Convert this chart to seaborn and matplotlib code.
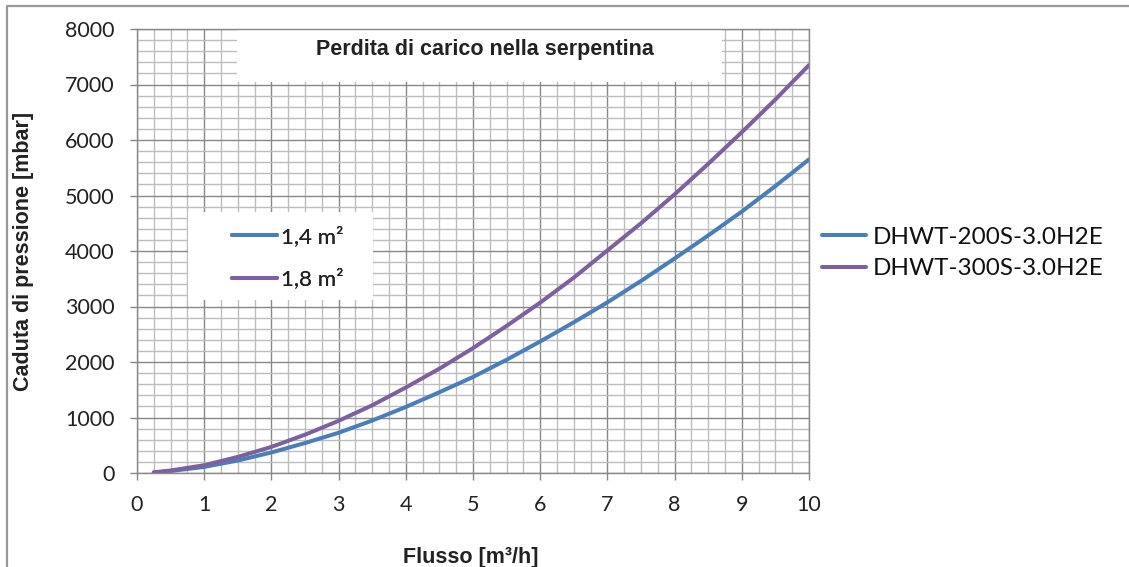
import pandas as pd
import matplotlib
matplotlib.use("Agg")
import matplotlib.pyplot as plt
import seaborn as sns
from matplotlib.patches import Rectangle
from matplotlib.lines import Line2D
from matplotlib.ticker import MultipleLocator

# values
flow = [0.25, 0.5, 1, 1.5, 2, 2.5, 3, 3.5, 4, 4.5, 5,
        5.5, 6, 6.5, 7, 7.5, 8, 8.5, 9, 9.5, 10]
dp_200 = [8, 35, 110, 225, 370, 540, 725, 945, 1190, 1455, 1730,
          2040, 2370, 2715, 3075, 3460, 3865, 4280, 4710, 5170, 5650]
dp_300 = [12, 45, 140, 290, 470, 690, 940, 1220, 1540, 1880, 2250,
          2650, 3070, 3520, 4010, 4500, 5020, 5570, 6140, 6730, 7350]

series_names = ["DHWT-200S-3.0H2E", "DHWT-300S-3.0H2E"]
area_labels = ["1,4 m²", "1,8 m²"]
colors = ["#4A7EBB", "#7D60A0"]

title = "Perdita di carico nella serpentina"
x_label = "Flusso [m³/h]"
y_label = "Caduta di pressione [mbar]"

df = pd.DataFrame({
    "Flusso": flow + flow,
    "Caduta": dp_200 + dp_300,
    "Serie": [series_names[0]] * len(flow) + [series_names[1]] * len(flow),
})

sns.set_theme(style="white")
plt.rcParams['font.family'] = ['Lato', 'DejaVu Sans']

W, H = 1129, 567
fig = plt.figure(figsize=(W / 100, H / 100), dpi=100)
ax = fig.add_axes([137 / W, (H - 473) / H, 672 / W, 444 / H])

sns.lineplot(data=df, x="Flusso", y="Caduta", hue="Serie",
             palette=colors, linewidth=2.9, ax=ax, legend=False)

ax.set_xlim(0, 10)
ax.set_ylim(0, 8000)
ax.xaxis.set_major_locator(MultipleLocator(1))
ax.xaxis.set_minor_locator(MultipleLocator(0.25))
ax.yaxis.set_major_locator(MultipleLocator(1000))
ax.yaxis.set_minor_locator(MultipleLocator(200))
ax.set_axisbelow(True)
ax.grid(which='major', color='#888888', lw=1.0)
ax.grid(which='minor', color='#BDBDBD', lw=1.0)
for s in ax.spines.values():
    s.set_color('#888888')
    s.set_linewidth(1.0)
ax.tick_params(which='major', direction='out', length=5, width=1,
               color='#888888', labelsize=15.5, labelcolor='#222222',
               bottom=True, left=True, pad=11)
ax.tick_params(which='minor', length=0)

bold = dict(family='Liberation Sans', weight='bold', size=15.5, color='#222222')
ax.set_xlabel(x_label, **bold)
ax.set_ylabel(y_label, **bold)
ax.xaxis.set_label_coords((471 - 137) / 672, -(547 - 473) / 444)
ax.yaxis.set_label_coords(-(137 - 34) / 672, (473 - 251) / 444)

# white box behind the title
ax.add_patch(Rectangle((0.149, 0.8806), 0.7215, 0.1194, transform=ax.transAxes,
                       facecolor='white', edgecolor='none', zorder=1))
ax.text(0.518, 0.953, title, transform=ax.transAxes, ha='center', va='center',
        zorder=3, **bold)

# inner legend (surface area)
ax.add_patch(Rectangle((0.0759, 0.3896), 0.2753, 0.198, transform=ax.transAxes,
                       facecolor='white', edgecolor='none', zorder=1))
h_in = [Line2D([], [], color=c, lw=2.9) for c in colors]
leg1 = ax.legend(h_in, area_labels, loc='center left',
                 bbox_to_anchor=((232 - 137) / 672, (473 - 257.5) / 444),
                 frameon=False, fontsize=16, handlelength=2.03,
                 handletextpad=0.16, labelspacing=0.98, borderpad=0,
                 borderaxespad=0)
for t in leg1.get_texts():
    t.set_color('#222222')
leg1.set_zorder(4)
ax.add_artist(leg1)

# outer legend (models)
h_out = [Line2D([], [], color=c, lw=2.9) for c in colors]
leg2 = fig.legend(h_out, series_names, loc='center left',
                  bbox_to_anchor=(822 / W, (H - 253) / H),
                  frameon=False, fontsize=17.5, handlelength=1.8,
                  handletextpad=0.3, labelspacing=0.45, borderpad=0,
                  borderaxespad=0)
for t in leg2.get_texts():
    t.set_color('#111111')

# chart frame (top and left edges)
fig.add_artist(Line2D([7 / W, 7 / W, 1.0], [0.0, (H - 6) / H, (H - 6) / H],
                      transform=fig.transFigure, color='#999999', lw=1.6))

fig.savefig("out.png", dpi=100)
